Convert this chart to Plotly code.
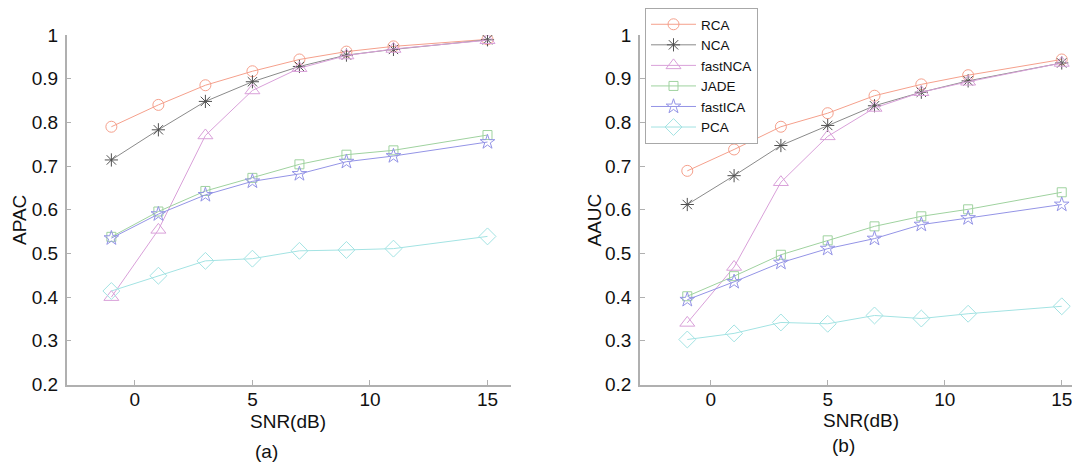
import plotly.graph_objects as go
from plotly.subplots import make_subplots

snr = [-1, 1, 3, 5, 7, 9, 11, 15]
methods = ["RCA", "NCA", "fastNCA", "JADE", "fastICA", "PCA"]

apac_rca = [0.790, 0.840, 0.885, 0.917, 0.944, 0.962, 0.974, 0.990]
apac_nca = [0.714, 0.783, 0.848, 0.893, 0.928, 0.954, 0.967, 0.989]
apac_fastnca = [0.400, 0.554, 0.770, 0.873, 0.924, 0.953, 0.968, 0.988]
apac_jade = [0.538, 0.596, 0.643, 0.673, 0.704, 0.726, 0.736, 0.771]
apac_fastica = [0.535, 0.590, 0.634, 0.665, 0.682, 0.710, 0.723, 0.755]
apac_pca = [0.414, 0.449, 0.483, 0.488, 0.506, 0.508, 0.511, 0.539]

aauc_rca = [0.689, 0.738, 0.790, 0.821, 0.861, 0.887, 0.908, 0.944]
aauc_nca = [0.612, 0.678, 0.747, 0.793, 0.838, 0.869, 0.895, 0.936]
aauc_fastnca = [0.341, 0.469, 0.663, 0.768, 0.833, 0.869, 0.893, 0.936]
aauc_jade = [0.402, 0.448, 0.497, 0.530, 0.562, 0.585, 0.601, 0.640]
aauc_fastica = [0.394, 0.435, 0.479, 0.511, 0.534, 0.566, 0.581, 0.612]
aauc_pca = [0.303, 0.317, 0.342, 0.339, 0.358, 0.351, 0.362, 0.379]

apac = [apac_rca, apac_nca, apac_fastnca, apac_jade, apac_fastica, apac_pca]
aauc = [aauc_rca, aauc_nca, aauc_fastnca, aauc_jade, aauc_fastica, aauc_pca]

x_ticks = [0, 5, 10, 15]
y_ticks = [0.2, 0.3, 0.4, 0.5, 0.6, 0.7, 0.8, 0.9, 1.0]
y_ticktext = ["0.2", "0.3", "0.4", "0.5", "0.6", "0.7", "0.8", "0.9", "1"]

colors = ["#f5a08c", "#8a8a8a", "#d9a0d9", "#9fd29f", "#9494e6", "#a3e3e3"]
mcolors = ["#f5a08c", "#505050", "#d9a0d9", "#9fd29f", "#9494e6", "#a3e3e3"]
symbols = ["circle-open", "asterisk-open", "triangle-up-open", "square-open", "star-open", "diamond-open"]
sizes = [11, 11, 13, 9, 11, 13]

# page body has an 8px default margin; figure is sized/placed to compensate
OFF = 8
W, H = 1080 - OFF, 468 - OFF


def px_x(px):
    return (px - OFF) / W


def px_y(py):
    return 1 - (py - OFF) / H


fig = make_subplots(rows=1, cols=2)

for col, data in [(1, apac), (2, aauc)]:
    for i, m in enumerate(methods):
        fig.add_trace(go.Scatter(
            x=snr, y=data[i], name=m, mode="lines+markers",
            line=dict(color=colors[i], width=1),
            marker=dict(symbol=symbols[i], size=sizes[i], color=mcolors[i],
                        line=dict(width=1, color=mcolors[i])),
            showlegend=(col == 2),
        ), row=1, col=col)

tickfont = dict(family="Liberation Sans, Arial", size=19, color="#111")
axis_common = dict(
    showline=True, linecolor="#b0b0b0", linewidth=1.5, mirror=False,
    showgrid=False, zeroline=False, ticks="inside", ticklen=5,
    tickcolor="#b0b0b0", tickfont=tickfont, automargin=False,
)

fig.update_xaxes(tickvals=x_ticks, ticklabelstandoff=-3, **axis_common)
fig.update_yaxes(range=[0.2, 1.0], tickvals=y_ticks, ticktext=y_ticktext,
                 ticklabelstandoff=3, **axis_common)

y0 = px_y(384.5)
y1 = px_y(35)
fig.update_layout(
    xaxis=dict(domain=[px_x(66.7), px_x(511)], range=[-2.9, 16]),
    xaxis2=dict(domain=[px_x(640), 1.0], range=[-3.02, 15.78]),
    yaxis=dict(domain=[y0, y1]),
    yaxis2=dict(domain=[y0, y1]),
)

font = dict(family="Liberation Sans, Arial", size=19, color="#111")
annots = [
    ("SNR(dB)", 287.5, 421, 0),
    ("(a)", 266.5, 451, 0),
    ("APAC", 19, 220, -90),
    ("SNR(dB)", 861, 420, 0),
    ("(b)", 843, 445, 0),
    ("AAUC", 593.5, 220, -90),
]
for text, px, py, ang in annots:
    fig.add_annotation(text=text, x=px_x(px), y=px_y(py), xref="paper", yref="paper",
                       showarrow=False, textangle=ang, font=font, xanchor="center", yanchor="middle")

fig.update_layout(
    width=W, height=H,
    margin=dict(l=0, r=0, t=0, b=0, autoexpand=False),
    paper_bgcolor="white", plot_bgcolor="white",
    legend=dict(x=px_x(645), y=1.0, xanchor="left", yanchor="top",
                bordercolor="#a8a8a8", borderwidth=1, bgcolor="white",
                font=dict(family="Liberation Sans, Arial", size=13.5, color="#111"),
                tracegroupgap=0, itemwidth=45),
)

fig.write_html("out.html")
